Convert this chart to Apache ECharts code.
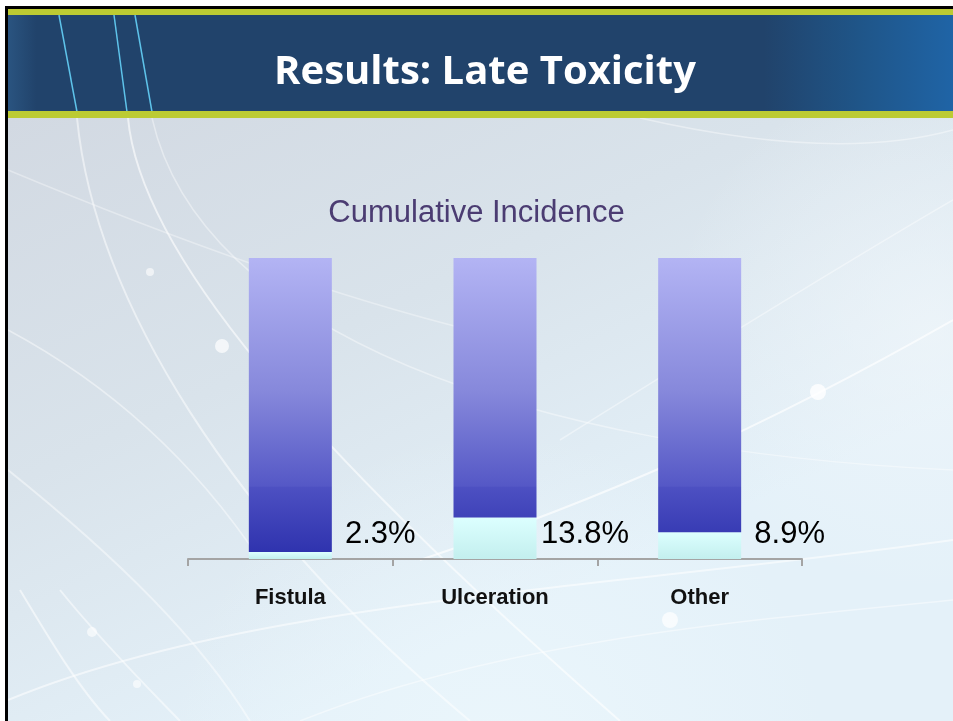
<!DOCTYPE html>
<html>
<head>
<meta charset="utf-8">
<title>Results: Late Toxicity</title>
<script src="https://cdn.jsdelivr.net/npm/echarts@6/dist/echarts.min.js"></script>
<style>
  html, body { margin: 0; padding: 0; background: #fff; }
  #chart { width: 953px; height: 721px; }
</style>
</head>
<body>
<div id="chart"></div>
<script>
// data
var categories = ['Fistula', 'Ulceration', 'Other'];
var incidence = [2.3, 13.8, 8.9];
var fullScale = 100;

var remainder = incidence.map(function (v) { return +(fullScale - v).toFixed(1); });

var chartDom = document.getElementById('chart');
var myChart = echarts.init(chartDom);

var curve = function (x1, y1, cpx1, cpy1, cpx2, cpy2, x2, y2, alpha, w) {
  return {
    type: 'bezierCurve',
    z: -1,
    silent: true,
    shape: { x1: x1, y1: y1, cpx1: cpx1, cpy1: cpy1, cpx2: cpx2, cpy2: cpy2, x2: x2, y2: y2 },
    style: { stroke: 'rgba(255,255,255,' + alpha + ')', lineWidth: w || 2, fill: null }
  };
};
var dot = function (x, y, r, alpha) {
  return { type: 'circle', z: -1, silent: true, shape: { cx: x, cy: y, r: r }, style: { fill: 'rgba(255,255,255,' + alpha + ')' } };
};

var option = {
  animation: false,
  title: {
    text: 'Cumulative Incidence',
    left: 'center',
    top: 198,
    padding: 0,
    textStyle: {
      fontFamily: 'Liberation Sans, Arial, sans-serif',
      fontSize: 31,
      lineHeight: 31,
      fontWeight: 'normal',
      color: '#4b3c72'
    }
  },
  grid: {
    left: 188,
    right: 151,
    top: 258,
    bottom: 162
  },
  xAxis: {
    type: 'category',
    data: categories,
    axisLine: { show: true, lineStyle: { color: '#a4a4a4', width: 2 } },
    axisTick: { show: true, alignWithLabel: false, length: 7, lineStyle: { color: '#a4a4a4', width: 2 } },
    axisLabel: {
      margin: 28,
      fontFamily: 'Liberation Sans, Arial, sans-serif',
      fontSize: 22,
      fontWeight: 'bold',
      color: '#111'
    }
  },
  yAxis: {
    type: 'value',
    min: 0,
    max: fullScale,
    show: false
  },
  series: [
    {
      name: 'Incidence',
      type: 'bar',
      stack: 'total',
      barWidth: 83,
      data: incidence,
      itemStyle: {
        color: new echarts.graphic.LinearGradient(0, 0, 0, 1, [
          { offset: 0, color: '#dcffff' },
          { offset: 1, color: '#c3efee' }
        ])
      }
    },
    {
      name: 'Remainder',
      type: 'bar',
      stack: 'total',
      barWidth: 83,
      data: remainder,
      itemStyle: {
        color: {
          type: 'linear',
          global: true,
          x: 0, y: 258, x2: 0, y2: 556,
          colorStops: [
            { offset: 0, color: '#b3b4f4' },
            { offset: 0.45, color: '#8688db' },
            { offset: 0.765, color: '#5558c6' },
            { offset: 0.77, color: '#4d50c2' },
            { offset: 1, color: '#2d31ad' }
          ]
        }
      }
    },
    {
      name: 'Labels',
      type: 'custom',
      data: incidence.map(function (v, i) { return [i, v]; }),
      renderItem: function (params, api) {
        var base = api.coord([api.value(0), 0]);
        return {
          type: 'text',
          x: base[0] + 90,
          y: base[1] - 25,
          style: {
            text: api.value(1).toFixed(1) + '%',
            fill: '#000',
            font: 'normal 31px "Liberation Sans", Arial, sans-serif',
            align: 'center',
            verticalAlign: 'middle'
          }
        };
      }
    }
  ],
  graphic: [
    // slide body
    {
      type: 'rect', z: -1, silent: true,
      shape: { x: 8, y: 118, width: 945, height: 603 },
      style: {
        fill: new echarts.graphic.LinearGradient(0, 0, 0.3, 1, [
          { offset: 0, color: '#d2d9e2' },
          { offset: 0.5, color: '#d9e3eb' },
          { offset: 1, color: '#e4f1f9' }
        ])
      }
    },
    {
      type: 'circle', z: -1, silent: true,
      shape: { cx: 930, cy: 330, r: 260 },
      style: {
        fill: new echarts.graphic.RadialGradient(0.5, 0.5, 0.5, [
          { offset: 0, color: 'rgba(240,246,250,0.7)' },
          { offset: 1, color: 'rgba(240,246,250,0)' }
        ])
      }
    },
    {
      type: 'circle', z: -1, silent: true,
      shape: { cx: 500, cy: 760, r: 330 },
      style: {
        fill: new echarts.graphic.RadialGradient(0.5, 0.5, 0.5, [
          { offset: 0, color: 'rgba(236,247,252,0.8)' },
          { offset: 1, color: 'rgba(236,247,252,0)' }
        ])
      }
    },
    // decorative white swooshes
    curve(77, 118, 95, 300, 230, 520, 470, 721, 0.5, 2),
    curve(128, 118, 140, 250, 300, 440, 620, 721, 0.6, 2),
    curve(152, 118, 200, 330, 520, 450, 953, 470, 0.4, 1.5),
    curve(8, 330, 120, 390, 200, 470, 260, 560, 0.45, 1.5),
    curve(8, 470, 120, 560, 200, 640, 250, 721, 0.45, 2),
    curve(20, 590, 50, 640, 80, 690, 110, 721, 0.55, 2),
    curve(60, 590, 100, 640, 150, 690, 180, 721, 0.5, 2),
    curve(8, 700, 250, 600, 600, 590, 953, 540, 0.55, 2),
    curve(300, 721, 500, 640, 750, 620, 953, 600, 0.45, 1.5),
    curve(420, 560, 600, 500, 760, 430, 953, 320, 0.65, 2),
    curve(560, 440, 720, 340, 850, 260, 953, 200, 0.4, 1.5),
    curve(640, 118, 780, 150, 880, 150, 953, 130, 0.4, 1.5),
    curve(8, 170, 200, 250, 350, 300, 470, 330, 0.35, 1.5),
    dot(150, 272, 4, 0.6),
    dot(222, 346, 7, 0.7),
    dot(818, 392, 8, 0.8),
    dot(92, 632, 5, 0.6),
    dot(137, 684, 4, 0.6),
    dot(670, 620, 8, 0.7),
    // header band
    {
      type: 'rect', z: -1, silent: true,
      shape: { x: 8, y: 15, width: 945, height: 97 },
      style: {
        fill: new echarts.graphic.LinearGradient(0, 0, 1, 0, [
          { offset: 0, color: '#2a5480' },
          { offset: 0.03, color: '#21436b' },
          { offset: 0.8, color: '#21436b' },
          { offset: 0.9, color: '#1f5588' },
          { offset: 1, color: '#1f64a6' }
        ])
      }
    },
    { type: 'line', z: -1, silent: true, shape: { x1: 59, y1: 15, x2: 77, y2: 112 }, style: { stroke: '#5ec3ea', lineWidth: 1.5 } },
    { type: 'line', z: -1, silent: true, shape: { x1: 114, y1: 15, x2: 127, y2: 112 }, style: { stroke: '#5ec3ea', lineWidth: 1.5 } },
    { type: 'line', z: -1, silent: true, shape: { x1: 135, y1: 15, x2: 152, y2: 112 }, style: { stroke: '#5ec3ea', lineWidth: 1.5 } },
    // green rules
    { type: 'rect', z: -1, silent: true, shape: { x: 8, y: 9, width: 945, height: 6 }, style: { fill: '#bccb33' } },
    { type: 'rect', z: -1, silent: true, shape: { x: 8, y: 111, width: 945, height: 7 }, style: { fill: '#bccb33' } },
    // black frame
    { type: 'rect', z: -1, silent: true, shape: { x: 5, y: 6, width: 948, height: 3 }, style: { fill: '#000' } },
    { type: 'rect', z: -1, silent: true, shape: { x: 5, y: 6, width: 3, height: 715 }, style: { fill: '#000' } },
    // slide heading
    {
      type: 'text', z: 5, silent: true,
      x: 485, y: 72.5,
      style: {
        text: 'Results: Late Toxicity',
        fill: '#ffffff',
        font: 'bold 40px "Open Sans", sans-serif',
        align: 'center',
        verticalAlign: 'middle',
        textAlign: 'center',
        textVerticalAlign: 'middle'
      }
    }
  ]
};

option && myChart.setOption(option);
</script>
</body>
</html>
